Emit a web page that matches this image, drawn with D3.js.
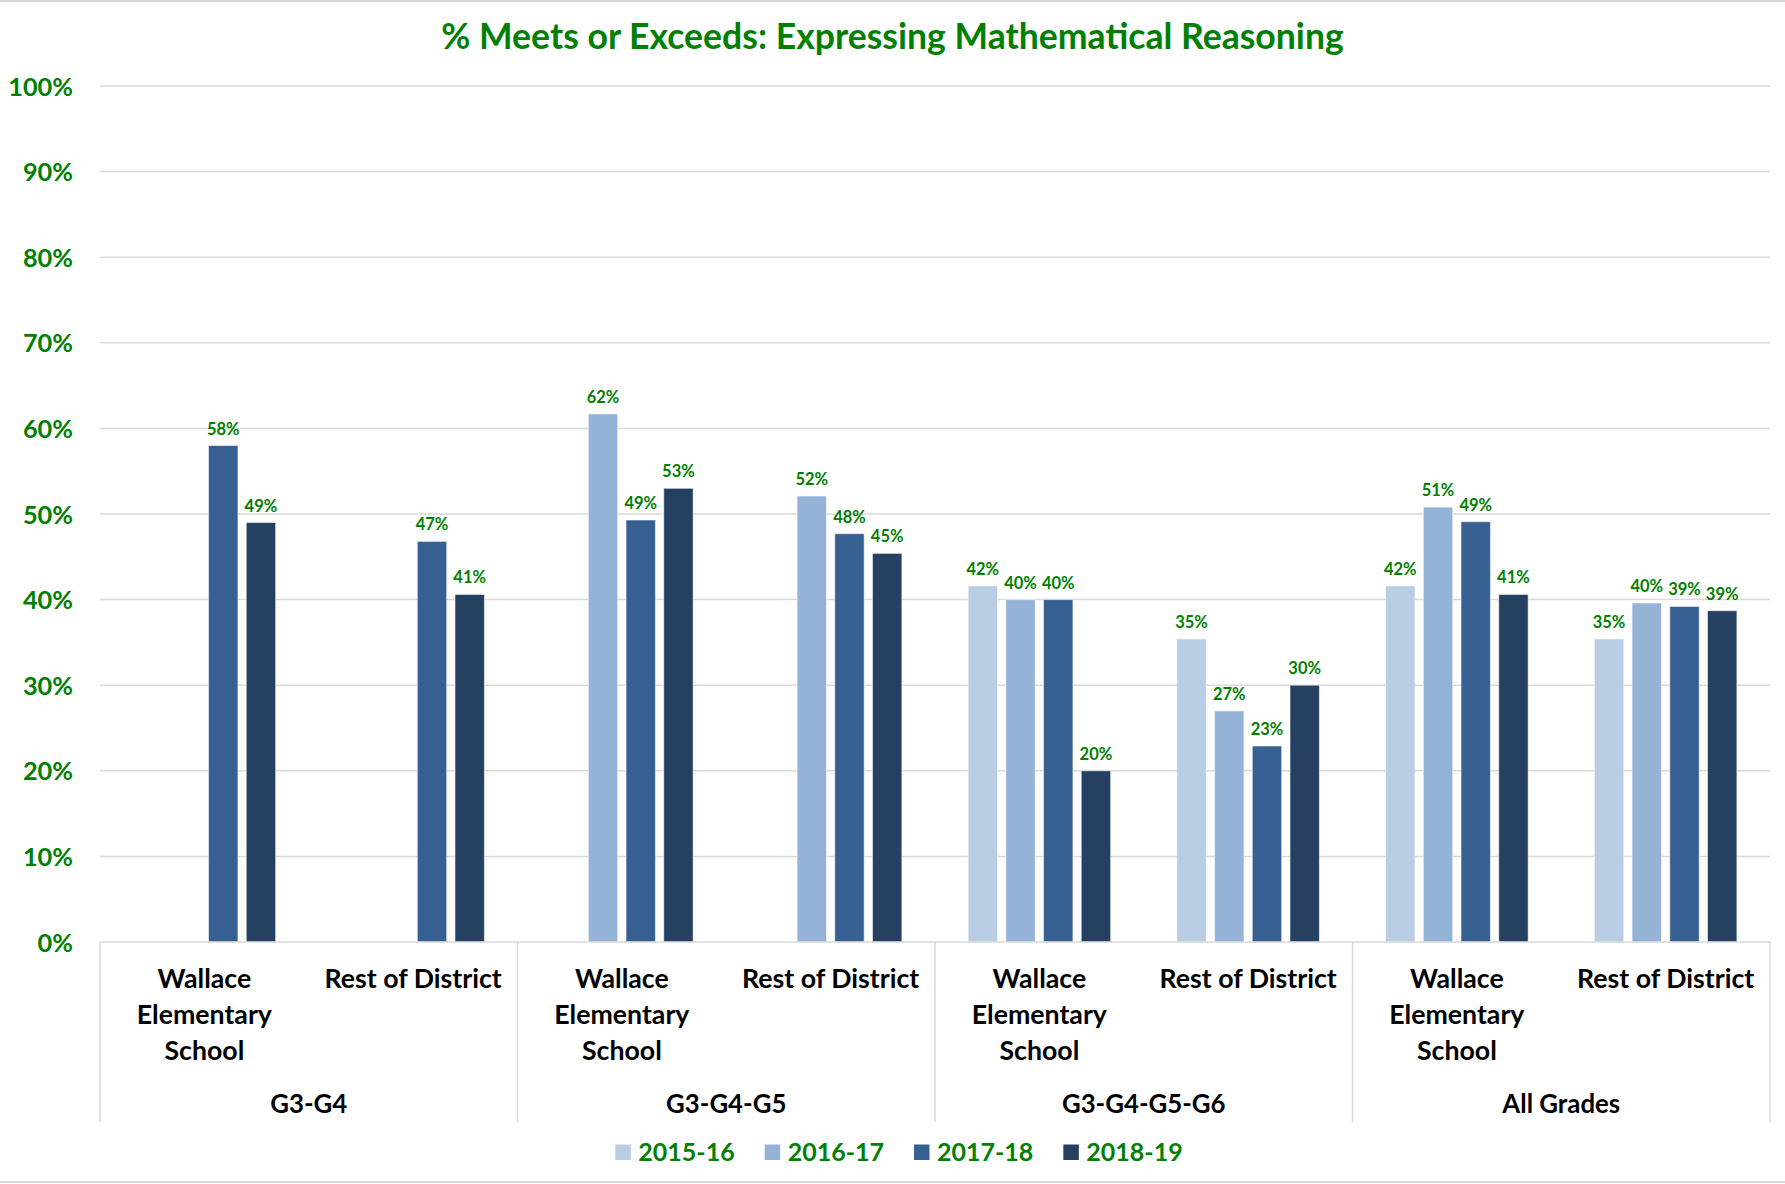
<!DOCTYPE html>
<html>
<head>
<meta charset="utf-8">
<script src="https://cdn.jsdelivr.net/npm/d3@7"></script>
<style>
  html, body { margin: 0; padding: 0; background: #ffffff; }
  svg { display: block; }
  text { font-family: Lato, "Open Sans", sans-serif; font-weight: 700; }
</style>
</head>
<body>
<script>
// ---------- data ----------
const title = "% Meets or Exceeds: Expressing Mathematical Reasoning";
const groups = ["G3-G4", "G3-G4-G5", "G3-G4-G5-G6", "All Grades"];
const schools = ["Wallace Elementary School", "Rest of District"];
const schoolLabelLines = [["Wallace", "Elementary", "School"], ["Rest of District"]];
const seriesNames = ["2015-16", "2016-17", "2017-18", "2018-19"];
const seriesColors = ["#B9CDE5", "#95B3D7", "#376092", "#254061"];
// values per series, in order: G3-G4 (Wallace, Rest), G3-G4-G5 (...), G3-G4-G5-G6 (...), All Grades (...)
const values2015 = [null, null, null, null, 41.6, 35.4, 41.6, 35.4];
const values2016 = [null, null, 61.7, 52.1, 40.0, 27.0, 50.8, 39.6];
const values2017 = [58.0, 46.8, 49.3, 47.7, 40.0, 22.9, 49.1, 39.2];
const values2018 = [49.0, 40.6, 53.0, 45.4, 20.0, 30.0, 40.6, 38.7];
const yTicks = [0, 10, 20, 30, 40, 50, 60, 70, 80, 90, 100];

const seriesValues = [values2015, values2016, values2017, values2018];

// ---------- layout ----------
const W = 1785, H = 1184;
const plot = { left: 100, right: 1770, top: 86, bottom: 942 };
const green = "#008000";
const gridColor = "#D9D9D9";

const svg = d3.select("body").append("svg").attr("width", W).attr("height", H);

// outer chart border
svg.append("rect").attr("x", -2).attr("y", 1).attr("width", W + 4).attr("height", H - 3)
  .attr("fill", "none").attr("stroke", gridColor).attr("stroke-width", 2);

// keys for subcategories
const keys = [];
groups.forEach((g, gi) => schools.forEach((s, si) => keys.push({ g, s, gi, si, k: g + "|" + s })));

const x0 = d3.scaleBand().domain(keys.map(d => d.k)).range([plot.left, plot.right]).padding(0);
const x1 = d3.scaleBand().domain(seriesNames).range([0, x0.bandwidth()]).paddingInner(0.22).paddingOuter(0.878);
const xg = d3.scaleBand().domain(groups).range([plot.left, plot.right]).padding(0);
const y = d3.scaleLinear().domain([0, 100]).range([plot.bottom, plot.top]);

// gridlines
svg.append("g").selectAll("line").data(yTicks.filter(t => t > 0)).join("line")
  .attr("x1", plot.left).attr("x2", plot.right)
  .attr("y1", d => y(d)).attr("y2", d => y(d))
  .attr("stroke", gridColor).attr("stroke-width", 1.5);

// y axis labels
const yAxis = d3.axisLeft(y).tickValues(yTicks).tickFormat(d => d + "%").tickSize(0).tickPadding(0);
const yg = svg.append("g").attr("transform", `translate(${plot.left - 27},0)`).call(yAxis);
yg.select(".domain").remove();
yg.selectAll("text").attr("fill", green).style("font-size", "25.3px").style("font-family", "Lato").style("font-weight", 700)
  .attr("dy", "0.36em");

// title
svg.append("text").attr("x", W / 2).attr("y", 49).attr("text-anchor", "middle")
  .attr("fill", green).style("font-size", "35.6px").text(title);

// bars
const barData = [];
seriesNames.forEach((sn, si) => {
  seriesValues[si].forEach((v, i) => {
    if (v !== null) barData.push({ series: sn, si, key: keys[i].k, v });
  });
});

svg.append("g").selectAll("rect").data(barData).join("rect")
  .attr("x", d => x0(d.key) + x1(d.series))
  .attr("width", x1.bandwidth())
  .attr("y", d => y(d.v))
  .attr("height", d => y(0) - y(d.v))
  .attr("fill", d => seriesColors[d.si])
  .attr("stroke", "rgba(255,255,255,0.55)").attr("stroke-width", 1);

// data labels
svg.append("g").selectAll("text").data(barData).join("text")
  .attr("x", d => x0(d.key) + x1(d.series) + x1.bandwidth() / 2)
  .attr("y", d => y(d.v) - 11)
  .attr("text-anchor", "middle").attr("fill", green).style("font-size", "16.5px")
  .text(d => Math.round(d.v) + "%");

// category axis
const axisG = svg.append("g");
axisG.append("line").attr("x1", plot.left).attr("x2", plot.right)
  .attr("y1", plot.bottom).attr("y2", plot.bottom)
  .attr("stroke", gridColor).attr("stroke-width", 1.5);
const sepX = groups.map(g => xg(g)).concat([plot.right]);
axisG.selectAll("line.sep").data(sepX).join("line").attr("class", "sep")
  .attr("x1", d => d).attr("x2", d => d).attr("y1", plot.bottom).attr("y2", 1122)
  .attr("stroke", gridColor).attr("stroke-width", 1.5);

// subcategory labels
keys.forEach(k => {
  const t = axisG.append("text").attr("text-anchor", "middle").attr("fill", "#000")
    .style("font-size", "26.7px");
  schoolLabelLines[k.si].forEach((line, li) => {
    t.append("tspan").attr("x", x0(k.k) + x0.bandwidth() / 2).attr("y", 988 + li * 35.8).text(line);
  });
});

// group labels
axisG.selectAll("text.grp").data(groups).join("text").attr("class", "grp")
  .attr("x", d => xg(d) + xg.bandwidth() / 2).attr("y", 1113)
  .attr("text-anchor", "middle").attr("fill", "#000").style("font-size", "25.8px")
  .text(d => d);

// legend
const legend = svg.append("g");
const items = legend.selectAll("g").data(seriesNames).join("g");
items.append("rect").attr("width", 15.5).attr("height", 15.5).attr("y", 1144.5)
  .attr("fill", (d, i) => seriesColors[i]);
items.append("text").attr("x", 23).attr("y", 1161).attr("fill", green).style("font-size", "25px").text(d => d);
let cx = 0;
const offsets = [];
items.each(function (d, i) {
  const tw = d3.select(this).select("text").node().getComputedTextLength();
  offsets.push(cx);
  cx += 23 + tw + 30;
});
const totalW = cx - 30;
const startX = 899 - totalW / 2;
items.attr("transform", (d, i) => `translate(${startX + offsets[i]},0)`);
</script>
</body>
</html>
